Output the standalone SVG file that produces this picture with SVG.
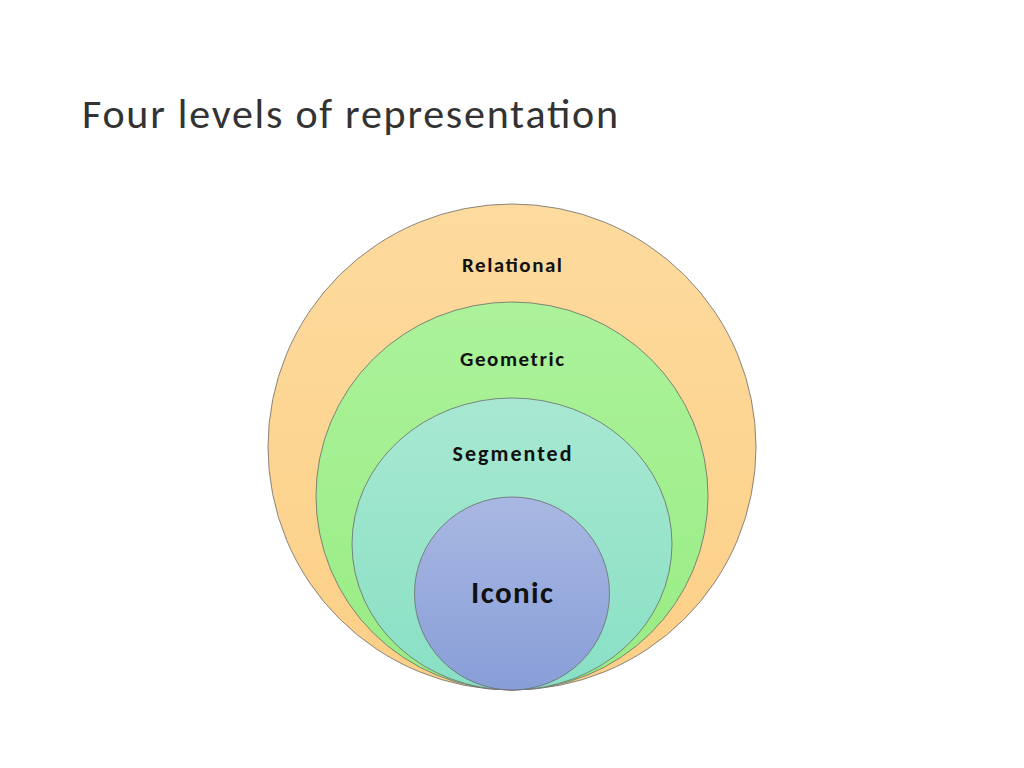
<svg xmlns="http://www.w3.org/2000/svg" width="1024" height="768" viewBox="0 0 1024 768">
<style>
.c{stroke:#6b6b6b;stroke-width:0.8}
.l{font-family:Calibri,Carlito,"Liberation Sans",sans-serif;font-weight:bold;fill:#111;text-anchor:middle}
</style>
<defs>
<linearGradient id="g1" x1="0" y1="0" x2="0" y2="1"><stop offset="0" stop-color="#FDDB9E"/><stop offset="1" stop-color="#FCCF86"/></linearGradient>
<linearGradient id="g2" x1="0" y1="0" x2="0" y2="1"><stop offset="0" stop-color="#ACF29A"/><stop offset="1" stop-color="#98EC84"/></linearGradient>
<linearGradient id="g3" x1="0" y1="0" x2="0" y2="1"><stop offset="0" stop-color="#A8E8D2"/><stop offset="1" stop-color="#88E0C4"/></linearGradient>
<linearGradient id="g4" x1="0" y1="0" x2="0" y2="1"><stop offset="0" stop-color="#A9B8E2"/><stop offset="1" stop-color="#889ED8"/></linearGradient>
</defs>
<rect width="1024" height="768" fill="#fff"/>
<text x="82" y="128" font-family="Calibri,Carlito,'Liberation Sans',sans-serif" font-size="42" fill="#333" textLength="536" lengthAdjust="spacing">Four levels of representation</text>
<g id="relational"><ellipse class="c" cx="512" cy="447" rx="244" ry="243" fill="url(#g1)"/><text class="l" x="512" y="272" font-size="21" textLength="100">Relational</text></g>
<g id="geometric"><ellipse class="c" cx="512" cy="496" rx="196" ry="194" fill="url(#g2)"/><text class="l" x="512" y="366" font-size="21" textLength="104">Geometric</text></g>
<g id="segmented"><ellipse class="c" cx="512" cy="544" rx="160" ry="146" fill="url(#g3)"/><text class="l" x="512" y="461" font-size="22" textLength="119">Segmented</text></g>
<g id="iconic"><ellipse class="c" cx="512" cy="593.5" rx="97.5" ry="96.5" fill="url(#g4)"/><text class="l" x="512" y="603" font-size="31" textLength="82">Iconic</text></g>
<g id="connectors"/>
</svg>
